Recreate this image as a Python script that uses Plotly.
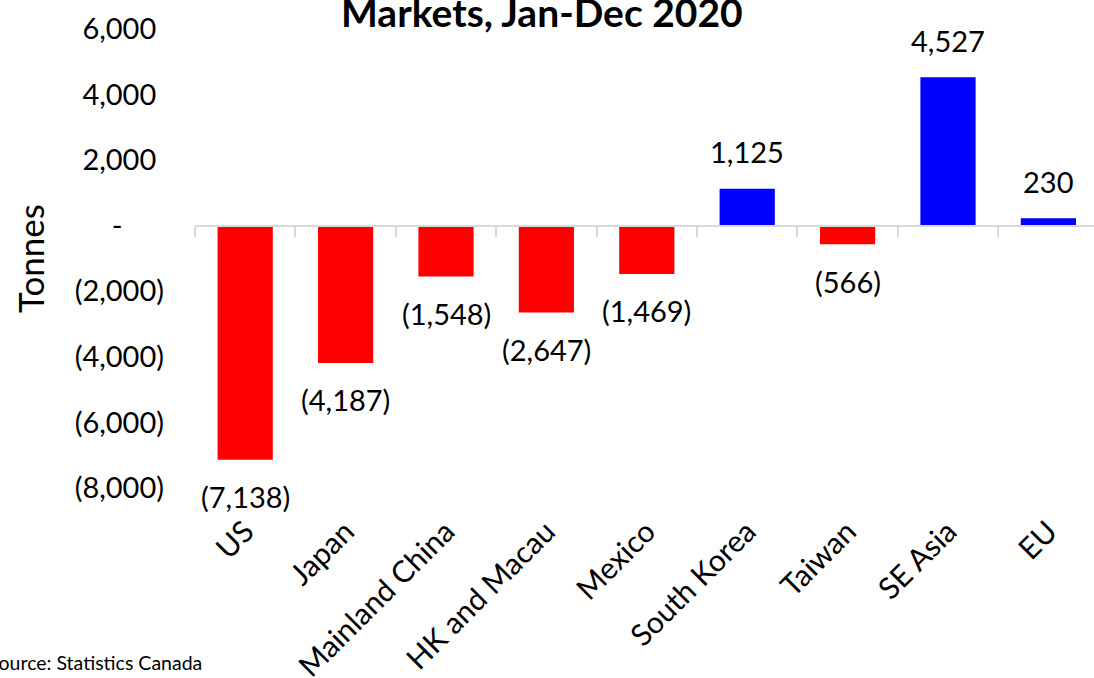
import plotly.graph_objects as go

categories = ["US", "Japan", "Mainland China", "HK and Macau", "Mexico",
              "South Korea", "Taiwan", "SE Asia", "EU"]
values = [-7138, -4187, -1548, -2647, -1469, 1125, -566, 4527, 230]
y_ticks = [6000, 4000, 2000, 0, -2000, -4000, -6000, -8000]
y_tick_labels = ["6,000", "4,000", "2,000", "-", "(2,000)", "(4,000)", "(6,000)", "(8,000)"]
title_text = "Markets, Jan-Dec 2020"
source_text = "Source: Statistics Canada"
y_title = "Tonnes"

W, H = 1094, 678
ML, MR, MT, MB = 195, 0, 29, 190
PW = W - ML - MR
PH = H - MT - MB
cat_px = 100.4
YMIN, YMAX = -8000, 6000
FONT = "Lato"
HIDE = "<span style='color:rgba(0,0,0,0)'>{}</span>"


def fmt(v):
    s = f"{abs(v):,}"
    return f"({s})" if v < 0 else s


def tick_fmt(lbl):
    # accounting-style padding: positives keep room for ")", zero dash padded
    if lbl.startswith("("):
        return lbl
    if lbl == "-":
        return lbl + HIDE.format("00)")
    return lbl + HIDE.format(")")


def px_x(p):
    return (p - ML) / PW


def px_y(p):
    return (H - MB - p) / PH


idx = list(range(len(categories)))
colors = ["#FF0000" if v < 0 else "#0000FF" for v in values]

fig = go.Figure()
fig.add_trace(go.Bar(x=idx, y=values, marker=dict(color=colors, line=dict(width=0)),
                     width=0.55, showlegend=False, hoverinfo="skip"))
# invisible trace to activate the zero-line axis
fig.add_trace(go.Scatter(x=[idx[0]], y=[0], xaxis="x2", mode="markers",
                         marker=dict(opacity=0), showlegend=False, hoverinfo="skip"))

xr = [-0.5, -0.5 + PW / cat_px]

annotations = []
for i, v in zip(idx, values):
    annotations.append(dict(x=i, y=v, xref="x", yref="y", text=fmt(v), showarrow=False,
                            yanchor="middle", yshift=37 if v >= 0 else -37,
                            font=dict(family=FONT, size=29, color="black")))
annotations.append(dict(x=px_x(542), y=px_y(37), xref="paper", yref="paper",
                        text=f"<b>{title_text}</b>", showarrow=False,
                        xanchor="center", yanchor="bottom",
                        font=dict(family=FONT, size=39, color="black")))
annotations.append(dict(x=px_x(30), y=px_y(259), xref="paper", yref="paper",
                        text=y_title, showarrow=False, textangle=-90,
                        xanchor="center", yanchor="middle",
                        font=dict(family=FONT, size=35, color="black")))
annotations.append(dict(x=px_x(204), y=px_y(662), xref="paper", yref="paper",
                        text=source_text, showarrow=False,
                        xanchor="right", yanchor="middle",
                        font=dict(family=FONT, size=19.5, color="black")))

fig.update_layout(
    width=W, height=H,
    margin=dict(l=ML, r=MR, t=MT, b=MB, autoexpand=False),
    paper_bgcolor="white", plot_bgcolor="white",
    xaxis=dict(range=xr, tickmode="array", tickvals=idx, ticktext=categories,
               tickangle=-45, ticks="", showline=False, showgrid=False, zeroline=False,
               ticklabelstandoff=19,
               tickfont=dict(family=FONT, size=30, color="black"), automargin=False),
    xaxis2=dict(range=xr, overlaying="x", anchor="free",
                position=(0 - YMIN) / (YMAX - YMIN),
                tickmode="array", tickvals=[i - 0.5 for i in idx] + [len(idx) - 0.5],
                ticks="outside", ticklen=10, tickwidth=2, tickcolor="#D9D9D9",
                showticklabels=False, showline=True, linecolor="#D9D9D9", linewidth=2,
                showgrid=False, zeroline=False, side="bottom"),
    yaxis=dict(range=[YMIN, YMAX], tickmode="array", tickvals=y_ticks,
               ticktext=[tick_fmt(t) for t in y_tick_labels],
               showgrid=False, zeroline=False, showline=False,
               ticks="", ticklabelstandoff=30,
               tickfont=dict(family=FONT, size=29, color="black"), automargin=False),
    annotations=annotations,
)

fig.write_html("out.html", config={"displayModeBar": False},
               post_script="document.body.style.margin='0';document.body.style.overflow='hidden';")
